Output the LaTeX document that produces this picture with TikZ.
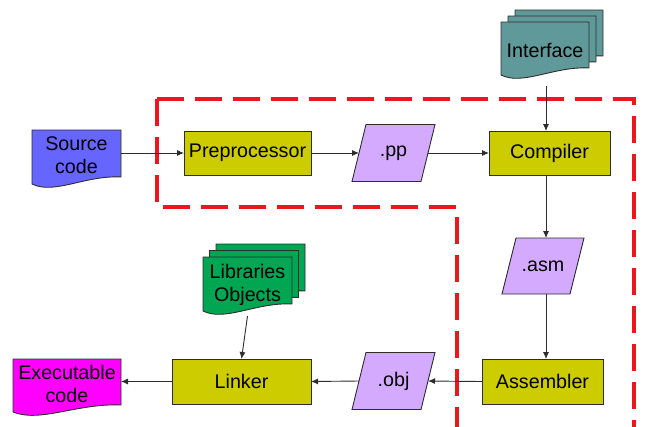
\documentclass[tikz,border=0pt]{standalone}
\usepackage{fontspec}
\setmainfont{Liberation Sans}
\usetikzlibrary{calc,backgrounds,arrows.meta}
\definecolor{procfill}{RGB}{204,204,0}
\definecolor{datafill}{RGB}{212,170,255}
\definecolor{srcfill}{RGB}{102,102,255}
\definecolor{ifacefill}{RGB}{95,153,153}
\definecolor{libfill}{RGB}{0,166,81}
\definecolor{exefill}{RGB}{255,0,255}
\definecolor{edgecol}{RGB}{45,45,45}
\definecolor{dashred}{RGB}{236,22,30}

% document shape (wavy bottom) drawn around a node's box, offset by (#3,#4)
\newcommand\docshape[4]{%
  \path[#1] let \p1=(#2.north west), \p2=(#2.south east) in
    ({\x1+#3},{\y1+#4}) -- ({\x2+#3},{\y1+#4}) -- ({\x2+#3},{\y2+#4})
    .. controls ({\x1+0.6*(\x2-\x1)+#3},{\y2+2pt+#4}) and ({\x1+0.25*(\x2-\x1)+#3},{\y2-18pt+#4}) ..
    ({\x1+#3},{\y2-7pt+#4}) -- cycle;}
% parallelogram drawn around a node's box
\newcommand\paral[2]{%
  \path[#1] ([xshift=7pt]#2.north west) -- ([xshift=7pt]#2.north east)
    -- ([xshift=-7pt]#2.south east) -- ([xshift=-7pt]#2.south west) -- cycle;}

\begin{document}
\begin{tikzpicture}[x=1pt,y=-1pt,
  txt/.style={shape=rectangle, inner sep=0pt, outer sep=0pt, align=center,
    font=\fontsize{19.7}{22.8}\selectfont},
  proc/.style={txt, draw=edgecol, line width=0.9pt, fill=procfill},
  shapeline/.style={draw=edgecol, line width=0.9pt},
  arr/.style={draw=edgecol, line width=0.9pt, -{Latex[length=7pt,width=6pt]}},
  reddash/.style={draw=dashred, line width=4pt, dash pattern=on 27pt off 11pt}
]
\useasboundingbox (0,0) rectangle (655,426);

% red dashed boundary
\draw[reddash] (157,99) -- (634,99) -- (634,430);
\draw[reddash] (157,99) -- (157,207) -- (457,207) -- (457,430);

% text nodes
\node[txt, minimum width=89pt, minimum height=47pt] (src) at (76.5,155.5) {Source\\code};
\node[proc, minimum width=127pt, minimum height=44pt] (pre) at (247.5,153) {Preprocessor};
\node[txt, minimum width=69pt, minimum height=57pt] (pp) at (393.5,153) {.pp};
\node[proc, minimum width=121pt, minimum height=44pt] (comp) at (549.5,153) {Compiler};
\node[txt, minimum width=88pt, minimum height=46pt] (iface) at (545,50) {Interface};
\node[txt, minimum width=68pt, minimum height=56pt] (asm) at (543,266) {.asm};
\node[proc, minimum width=121pt, minimum height=45pt] (assem) at (542.5,381.5) {Assembler};
\node[txt, minimum width=69pt, minimum height=57pt] (obj) at (393.5,381) {.obj};
\node[proc, minimum width=139pt, minimum height=45pt] (link) at (241.5,381.5) {Linker};
\node[txt, minimum width=89pt, minimum height=47pt] (lib) at (247.5,285) {Libraries\\Objects};
\node[txt, minimum width=108pt, minimum height=46pt] (exe) at (67,384) {Executable\\code};
\coordinate (col) at (546,0);

% shapes behind the texts
\begin{scope}[on background layer]
  \docshape{shapeline, fill=srcfill}{src}{0pt}{2pt}
  \docshape{shapeline, fill=ifacefill}{iface}{14pt}{17pt}
  \docshape{shapeline, fill=ifacefill}{iface}{7pt}{11pt}
  \docshape{shapeline, fill=ifacefill}{iface}{0pt}{5pt}
  \docshape{shapeline, fill=libfill}{lib}{13pt}{17.5pt}
  \docshape{shapeline, fill=libfill}{lib}{6.5pt}{11pt}
  \docshape{shapeline, fill=libfill}{lib}{0pt}{4.5pt}
  \docshape{shapeline, fill=exefill}{exe}{0pt}{2pt}
  \paral{shapeline, fill=datafill}{pp}
  \paral{shapeline, fill=datafill}{asm}
  \paral{shapeline, fill=datafill}{obj}
\end{scope}

% connectors
\draw[arr] (src.east |- pre.west) -- (pre.west);
\draw[arr] (pre.east) -- (pp.west);
\draw[arr] (pp.east) -- (comp.west);
\draw[arr] ([yshift=-13pt]iface.south -| col) -- (comp.north -| col);
\draw[arr] (comp.south -| col) -- (asm.north -| col);
\draw[arr] (asm.south -| col) -- (assem.north -| col);
\draw[arr] (assem.west) -- (obj.east);
\draw[arr] (obj.west) -- (link.east);
\draw[arr] ([yshift=-7.5pt]lib.south) -- (link.north);
\draw[arr] (link.west) -- (exe.east |- link.west);
\end{tikzpicture}
\end{document}
